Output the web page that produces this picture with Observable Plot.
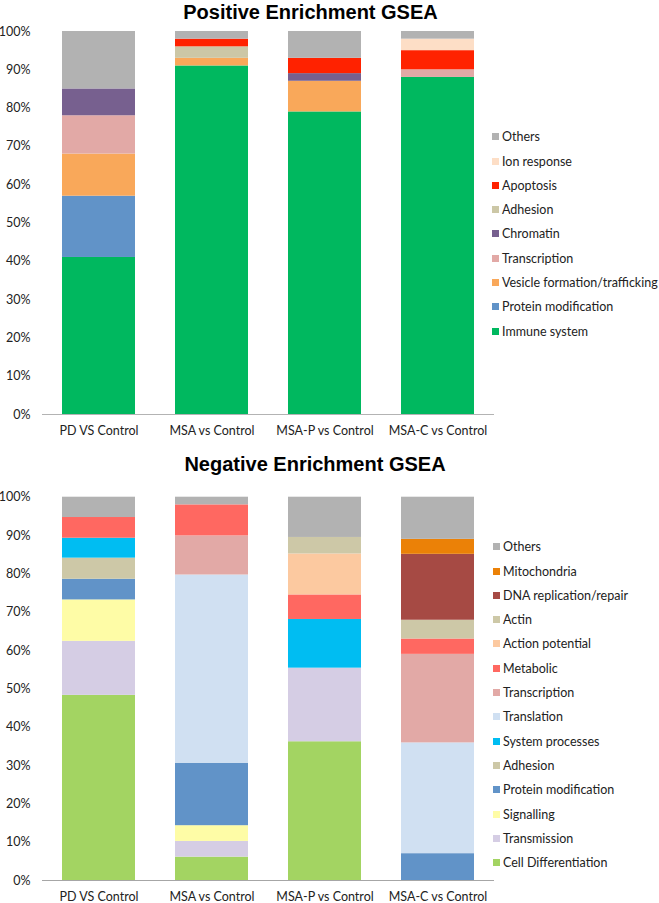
<!DOCTYPE html>
<html>
<head>
<meta charset="utf-8">
<script src="https://cdn.jsdelivr.net/npm/d3@7"></script>
<script src="https://cdn.jsdelivr.net/npm/@observablehq/plot@0.6"></script>
<style>
  html, body { margin: 0; padding: 0; background: #fff; }
  #root { position: relative; width: 659px; height: 903px; overflow: hidden; font-family: Lato, "Open Sans", sans-serif; color: #222; }
  .title { position: absolute; width: 400px; text-align: center; font-weight: bold; font-size: 20px; line-height: 22px; color: #000; font-family: "Liberation Sans", Arial, sans-serif; }
  .chart { position: absolute; left: 0; }
  .legend { position: absolute; font-size: 12.5px; color: #222; }
  .item { position: absolute; white-space: nowrap; display: flex; align-items: center; }
  .sw { width: 7px; height: 7px; margin-right: 3px; display: inline-block; }
</style>
</head>
<body>
<div id="root"></div>
<script>
// ---------- shared ----------
const comparisons = ["PD VS Control", "MSA vs Control", "MSA-P vs Control", "MSA-C vs Control"];
const yTicks = [0, 10, 20, 30, 40, 50, 60, 70, 80, 90, 100];

// ---------- Positive Enrichment GSEA (bottom -> top) ----------
const posCategories = ["Immune system", "Protein modification", "Vesicle formation/trafficking", "Transcription", "Chromatin", "Adhesion", "Apoptosis", "Ion response", "Others"];
const posColors = ["#00b85f", "#6193c8", "#f9a85a", "#e2a9a6", "#77608f", "#ccc7a6", "#ff2200", "#fddec6", "#b2b2b2"];
const posImmune       = [41, 91, 79, 88];
const posProteinMod   = [16, 0, 0, 0];
const posVesicle      = [11, 2, 8, 0];
const posTranscription= [10, 0, 0, 2];
const posChromatin    = [7, 0, 2, 0];
const posAdhesion     = [0, 3, 0, 0];
const posApoptosis    = [0, 2, 4, 5];
const posIonResponse  = [0, 0, 0, 3];
const posOthers       = [15, 2, 7, 2];
const posSeries = [posImmune, posProteinMod, posVesicle, posTranscription, posChromatin, posAdhesion, posApoptosis, posIonResponse, posOthers];

// ---------- Negative Enrichment GSEA (bottom -> top) ----------
const negCategories = ["Cell Differentiation", "Transmission", "Signalling", "Protein modification", "Adhesion", "System processes", "Translation", "Transcription", "Metabolic", "Action potential", "Actin", "DNA replication/repair", "Mitochondria", "Others"];
const negColors = ["#a3d462", "#d5cde4", "#fefca6", "#6193c8", "#cdc8a7", "#00bdf2", "#d0e0f2", "#e2a9a6", "#ff6861", "#fcc9a0", "#cdc8a7", "#a64a44", "#eb8107", "#b2b2b2"];
const negCellDiff     = [48.3, 6.1, 36.2, 0];
const negTransmission = [14.1, 4.1, 19.2, 0];
const negSignalling   = [10.8, 4.1, 0, 0];
const negProteinMod   = [5.4, 16.3, 0, 7.0];
const negAdhesion     = [5.5, 0, 0, 0];
const negSystem       = [5.2, 0, 12.7, 0];
const negTranslation  = [0, 49.1, 0, 28.9];
const negTranscription= [0, 10.2, 0, 23.1];
const negMetabolic    = [5.4, 8.1, 6.4, 4.0];
const negActionPot    = [0, 0, 10.7, 0];
const negActin        = [0, 0, 4.3, 4.9];
const negDNA          = [0, 0, 0, 17.2];
const negMito         = [0, 0, 0, 3.9];
const negOthers       = [5.3, 2.0, 10.5, 11.0];
const negSeries = [negCellDiff, negTransmission, negSignalling, negProteinMod, negAdhesion, negSystem, negTranslation, negTranscription, negMetabolic, negActionPot, negActin, negDNA, negMito, negOthers];

function rows(categories, series) {
  const out = [];
  comparisons.forEach((c, i) => {
    categories.forEach((cat, k) => out.push({comparison: c, category: cat, value: series[k][i]}));
  });
  return out;
}

function makeChart({categories, colors, series, height, marginTop, marginBottom, axisColor, yAxisColor}) {
  return Plot.plot({
    width: 659,
    height,
    marginLeft: 42,
    marginRight: 165,
    marginTop,
    marginBottom,
    style: {fontFamily: "Lato, 'Open Sans', sans-serif", fontSize: "12.5px", color: "#222", background: "transparent", overflow: "visible"},
    x: {domain: comparisons, paddingInner: 0.35, paddingOuter: 0.175, label: null, tickSize: 0, tickPadding: 12},
    y: {domain: [0, 100], ticks: yTicks, tickFormat: d => d + "%", label: null, tickSize: 0, tickPadding: 12},
    color: {domain: categories, range: colors},
    marks: [
      Plot.barY(rows(categories, series), {x: "comparison", y: "value", fill: "category", inset: 0}),
      Plot.ruleY([0], {stroke: axisColor, strokeWidth: 1.2}),
      Plot.ruleX([0], {x: () => 0, stroke: yAxisColor, strokeWidth: 1.2, render: (index, scales, values, dimensions, context) => {
        const g = d3.create("svg:g");
        g.append("line")
          .attr("x1", dimensions.marginLeft).attr("x2", dimensions.marginLeft)
          .attr("y1", scales.y(100)).attr("y2", scales.y(0))
          .attr("stroke", yAxisColor).attr("stroke-width", 1.2);
        return g.node();
      }})
    ]
  });
}

const root = document.getElementById("root");

function addTitle(text, top, center) {
  const d = document.createElement("div");
  d.className = "title";
  d.style.top = top + "px";
  d.style.left = (center - 200) + "px";
  d.textContent = text;
  root.appendChild(d);
}

function addLegend(categories, colors, left, firstCenter, step) {
  const lg = document.createElement("div");
  lg.className = "legend";
  lg.style.left = left + "px";
  lg.style.top = "0px";
  const n = categories.length;
  for (let k = n - 1; k >= 0; k--) {
    const row = n - 1 - k;
    const it = document.createElement("div");
    it.className = "item";
    it.style.top = (firstCenter + row * step - 8) + "px";
    it.style.height = "16px";
    const sw = document.createElement("span");
    sw.className = "sw";
    sw.style.background = colors[k];
    const tx = document.createElement("span");
    tx.textContent = categories[k];
    it.appendChild(sw);
    it.appendChild(tx);
    lg.appendChild(it);
  }
  root.appendChild(lg);
}

// Top chart
addTitle("Positive Enrichment GSEA", 0.5, 310.5);
const c1 = makeChart({categories: posCategories, colors: posColors, series: posSeries, height: 445, marginTop: 31, marginBottom: 31, axisColor: "#b3b3b3", yAxisColor: "#b3b3b3"});
c1.classList.add("chart");
c1.style.top = "0px";
root.appendChild(c1);
addLegend(posCategories, posColors, 492, 136.7, 24.3);

// Bottom chart
addTitle("Negative Enrichment GSEA", 453, 315);
const c2 = makeChart({categories: negCategories, colors: negColors, series: negSeries, height: 448, marginTop: 41.7, marginBottom: 23, axisColor: "#a6a6a6", yAxisColor: "#444"});
c2.classList.add("chart");
c2.style.top = "455px";
root.appendChild(c2);
addLegend(negCategories, negColors, 493, 546.7, 24.3);
</script>
</body>
</html>
